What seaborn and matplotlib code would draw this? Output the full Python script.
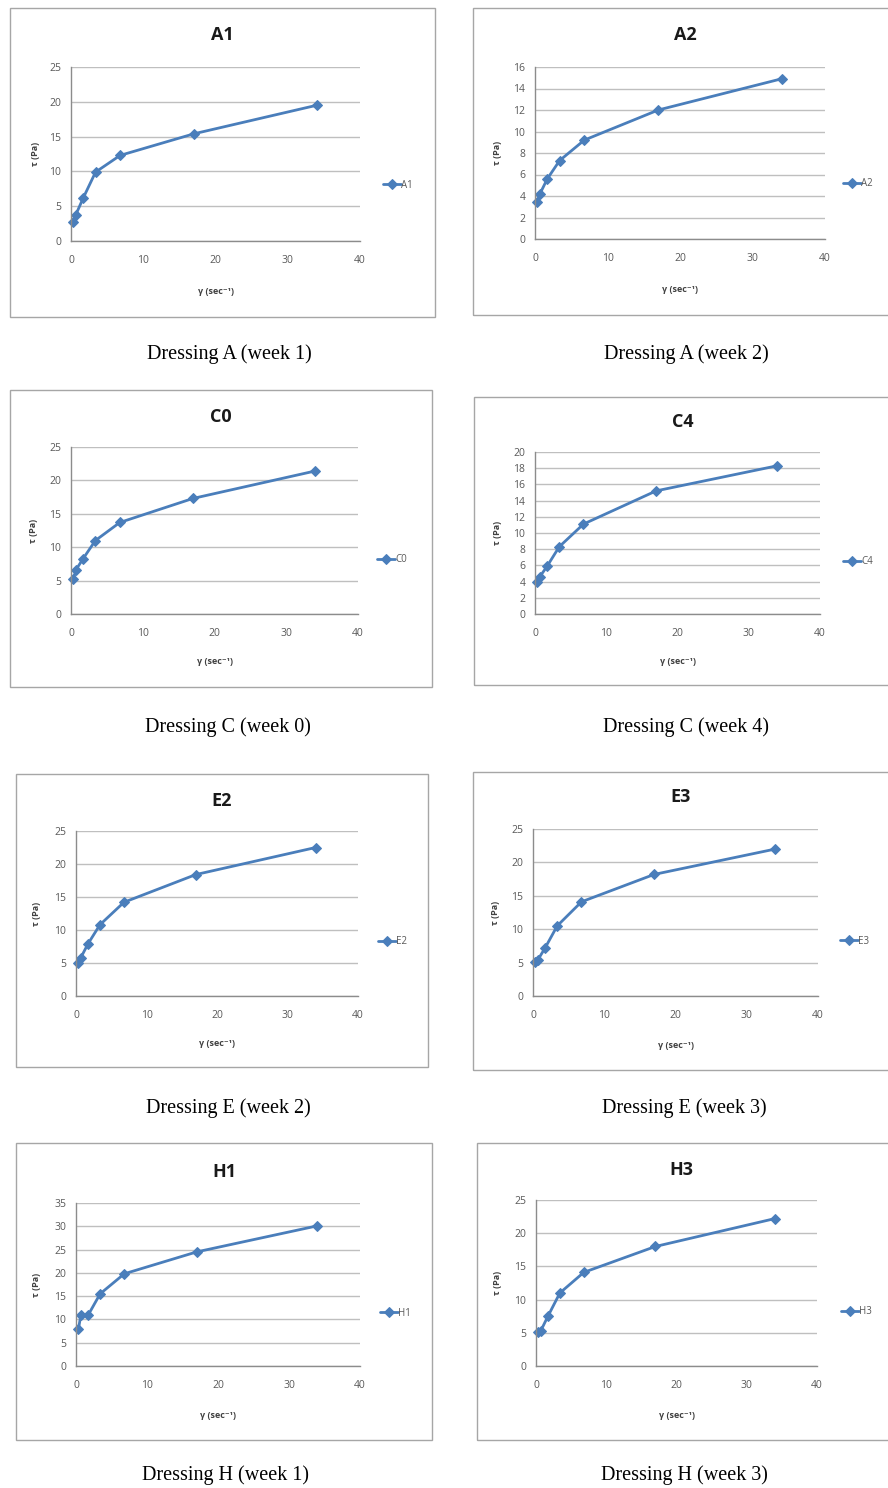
import matplotlib
matplotlib.use("Agg")
import matplotlib.pyplot as plt
import seaborn as sns
import pandas as pd
from matplotlib.patches import Rectangle

sns.set_style("white")
plt.rcParams['font.family'] = ['Open Sans', 'DejaVu Sans']

# Shear rate (sec^-1)
shear_rate = [0.34, 0.68, 1.7, 3.4, 6.8, 17, 34]

# Shear stress (Pa) for each sample
A1 = [2.8, 3.8, 6.2, 9.9, 12.3, 15.4, 19.5]
A2 = [3.4, 4.2, 5.6, 7.3, 9.2, 12.0, 14.9]
C0 = [5.2, 6.6, 8.3, 11.0, 13.7, 17.3, 21.4]
C4 = [4.0, 4.6, 5.9, 8.3, 11.1, 15.2, 18.3]
E2 = [5.0, 5.8, 7.9, 10.8, 14.2, 18.4, 22.5]
E3 = [5.1, 5.4, 7.2, 10.5, 14.1, 18.2, 22.0]
H1 = [7.9, 10.9, 10.9, 15.5, 19.8, 24.5, 30.1]
H3 = [5.1, 5.3, 7.5, 11.0, 14.1, 18.0, 22.2]

names = ["A1", "A2", "C0", "C4", "E2", "E3", "H1", "H3"]
series = [A1, A2, C0, C4, E2, E3, H1, H3]
captions = ["Dressing A (week 1)", "Dressing A (week 2)",
            "Dressing C (week 0)", "Dressing C (week 4)",
            "Dressing E (week 2)", "Dressing E (week 3)",
            "Dressing H (week 1)", "Dressing H (week 3)"]
y_max = [25, 16, 25, 20, 25, 25, 35, 25]
y_step = [5, 2, 5, 2, 5, 5, 5, 5]

# layout in pixels: box, plot area, title y, caption (x,y), legend (x,y), ylabel x, xlabel y
layout = [
    dict(box=(10, 8, 435, 317), plot=(71, 67, 360, 241), ty=35, cap=(229, 354), leg=(383, 185), ylx=35, xly=292),
    dict(box=(473, 8, 893, 315), plot=(535, 67, 825, 239), ty=35, cap=(686, 354), leg=(843, 184), ylx=497, xly=290),
    dict(box=(10, 390, 432, 687), plot=(71, 447, 358, 614), ty=417, cap=(228, 727), leg=(377, 560), ylx=33, xly=662),
    dict(box=(474, 397, 893, 685), plot=(535, 452, 820, 614), ty=422, cap=(686, 727), leg=(843, 562), ylx=497, xly=662),
    dict(box=(16, 774, 428, 1067), plot=(76, 831, 358, 996), ty=801, cap=(228, 1108), leg=(378, 942), ylx=36, xly=1044),
    dict(box=(473, 772, 893, 1070), plot=(533, 829, 818, 996), ty=797, cap=(684, 1108), leg=(840, 941), ylx=496, xly=1045),
    dict(box=(16, 1143, 432, 1440), plot=(76, 1203, 360, 1366), ty=1172, cap=(225, 1475), leg=(380, 1313), ylx=36, xly=1415),
    dict(box=(477, 1143, 893, 1440), plot=(536, 1200, 817, 1366), ty=1170, cap=(684, 1475), leg=(841, 1312), ylx=497, xly=1415),
]

W, H = 888, 1488
fig = plt.figure(figsize=(W / 100, H / 100), dpi=100)
fig.patch.set_facecolor("white")

def fx(x):
    return x / W

def fy(y):
    return 1 - y / H

blue = "#4A7EBB"
grid_c = "#BFBFBF"
axis_c = "#8C8C8C"
tick_c = "#595959"

for name, vals, cap, ymx, ystp, L in zip(names, series, captions, y_max, y_step, layout):
    bx0, by0, bx1, by1 = L["box"]
    fig.patches.append(Rectangle((fx(bx0), fy(by1)), fx(bx1 - bx0), (by1 - by0) / H,
                                 transform=fig.transFigure, fill=False,
                                 edgecolor="#A6A6A6", linewidth=1.0, zorder=0))
    px0, py0, px1, py1 = L["plot"]
    ax = fig.add_axes([fx(px0), fy(py1), fx(px1 - px0), (py1 - py0) / H])
    df = pd.DataFrame({"x": shear_rate, "y": vals, "s": name})
    sns.lineplot(data=df, x="x", y="y", hue="s", palette=[blue], marker="D",
                 markersize=5, markeredgecolor=blue, linewidth=2, ax=ax, clip_on=False)
    ax.set_xlim(0, 40)
    ax.set_ylim(0, ymx)
    ax.set_xticks(range(0, 41, 10))
    ax.set_yticks(range(0, ymx + 1, ystp))
    ax.grid(axis="y", color=grid_c, linewidth=1.0)
    ax.grid(axis="x", visible=False)
    ax.set_axisbelow(True)
    for s in ["top", "right"]:
        ax.spines[s].set_visible(False)
    for s in ["left", "bottom"]:
        ax.spines[s].set_color(axis_c)
        ax.spines[s].set_linewidth(1.0)
    ax.tick_params(axis="both", length=0, labelsize=7.5, colors=tick_c)
    ax.tick_params(axis="x", pad=10)
    ax.tick_params(axis="y", pad=7)
    ax.set_xlabel("γ (sec⁻¹)", fontsize=6.5, fontweight="bold", color="#404040")
    ax.set_ylabel("τ (Pa)", fontsize=6.5, fontweight="bold", color="#404040")
    ax.xaxis.set_label_coords(fx((px0 + px1) / 2), fy(L["xly"]), transform=fig.transFigure)
    ax.yaxis.set_label_coords(fx(L["ylx"]), fy((py0 + py1) / 2), transform=fig.transFigure)
    ax.xaxis.label.set_verticalalignment("center")
    ax.yaxis.label.set_verticalalignment("center")
    leg = ax.legend(loc="center left", bbox_to_anchor=(fx(L["leg"][0]), fy(L["leg"][1])),
                    bbox_transform=fig.transFigure, frameon=False, fontsize=7,
                    handlelength=1.8, handletextpad=0.1, borderpad=0, borderaxespad=0)
    for t in leg.get_texts():
        t.set_color(tick_c)
    fig.text(fx((bx0 + min(bx1, W)) / 2 if bx1 <= W else (px0 + px1) / 2 + 5), fy(L["ty"]), name,
             ha="center", va="center", fontsize=13, fontweight="bold", color="#1a1a1a")
    fig.text(fx(L["cap"][0]), fy(L["cap"][1]), cap, ha="center", va="center",
             fontsize=14.5, family="Liberation Serif", color="black")

fig.savefig("out.png", dpi=100, facecolor="white")
